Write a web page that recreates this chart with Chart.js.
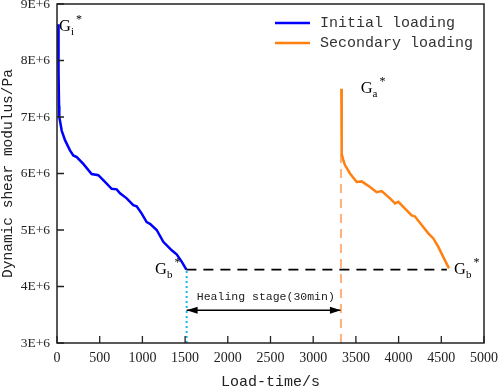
<!DOCTYPE html>
<html>
<head>
<meta charset="utf-8">
<script src="https://cdn.jsdelivr.net/npm/chart.js@4"></script>
<style>
  html, body { margin: 0; padding: 0; background: #fff; }
  #wrap { width: 498px; height: 388px; }
</style>
</head>
<body>
<div id="wrap"><canvas id="c" width="498" height="388"></canvas></div>
<script>
// --- data (time in s, modulus in Pa) ---
const initTime = [12, 18, 24, 27, 55, 94, 152, 191, 231, 308, 406, 484, 562, 640, 699, 738, 816, 893, 933, 992, 1050, 1089, 1167, 1245, 1343, 1401, 1460, 1515];
const initG = [8.64, 7.8, 7.2, 7.0, 6.76, 6.59, 6.41, 6.32, 6.29, 6.17, 5.99, 5.97, 5.85, 5.73, 5.72, 5.65, 5.56, 5.44, 5.42, 5.29, 5.14, 5.11, 5.0, 4.79, 4.64, 4.57, 4.44, 4.30].map(v => v * 1e6);

const secTime = [3330, 3332, 3335, 3350, 3372, 3431, 3509, 3568, 3665, 3743, 3802, 3899, 3958, 3997, 4075, 4153, 4192, 4270, 4348, 4407, 4465, 4524, 4590];
const secG = [7.50, 6.9, 6.35, 6.25, 6.15, 6.0, 5.85, 5.86, 5.76, 5.67, 5.69, 5.56, 5.47, 5.50, 5.38, 5.26, 5.24, 5.09, 4.94, 4.85, 4.70, 4.52, 4.32].map(v => v * 1e6);

const seriesNames = ["Initial loading", "Secondary loading"];

// reference lines
const gbLevel = 4.3e6;            // dashed black level
const gbSpan = [1515, 4565];
const healStart = 1518;           // dotted blue
const healEnd = 3325;             // dashed orange
const healTop = 6.4e6;
const arrowLevel = 3.58e6;
const healText = "Healing stage(30min)";

// axis ticks
const xTicks = [0, 500, 1000, 1500, 2000, 2500, 3000, 3500, 4000, 4500, 5000];
const yTicks = [3e6, 4e6, 5e6, 6e6, 7e6, 8e6, 9e6];

// G labels: [base, subscript, anchor time, anchor modulus]
const gLabels = [
  ["G", "i", 23, 8.53e6],
  ["G", "b", 1148, 4.22e6],
  ["G", "a", 3556, 7.42e6],
  ["G", "b", 4649, 4.22e6]
];

const zip = (xs, ys) => xs.map((x, i) => ({ x, y: ys[i] }));

const BLUE = "#0000ff";
const ORANGE = "#ff7f0f";
const MONO = "'Liberation Mono', monospace";
const SERIF = "'Liberation Serif', 'Times New Roman', serif";

const framePlugin = {
  id: "frame",
  afterDatasetsDraw(chart) {
    const { ctx, chartArea: a, scales: { x, y } } = chart;
    ctx.save();

    // arrowheads on the healing arrow
    const ay = y.getPixelForValue(arrowLevel);
    const ax1 = x.getPixelForValue(healStart);
    const ax2 = x.getPixelForValue(healEnd);
    ctx.fillStyle = "#000";
    ctx.beginPath();
    ctx.moveTo(ax1, ay); ctx.lineTo(ax1 + 11, ay - 3.5); ctx.lineTo(ax1 + 11, ay + 3.5); ctx.closePath();
    ctx.fill();
    ctx.beginPath();
    ctx.moveTo(ax2, ay); ctx.lineTo(ax2 - 11, ay - 3.5); ctx.lineTo(ax2 - 11, ay + 3.5); ctx.closePath();
    ctx.fill();

    // healing text
    ctx.font = "11.5px " + MONO;
    ctx.fillStyle = "#222";
    ctx.textAlign = "center";
    ctx.textBaseline = "middle";
    ctx.fillText(healText, (ax1 + ax2) / 2 + 2, ay - 13);

    // G labels
    ctx.textAlign = "left";
    ctx.textBaseline = "alphabetic";
    gLabels.forEach(([g, sub, t, v]) => {
      const px = x.getPixelForValue(t);
      const py = y.getPixelForValue(v);
      ctx.font = "16.5px " + SERIF;
      ctx.fillStyle = "#000";
      ctx.fillText(g, px, py);
      const gw = ctx.measureText(g).width;
      ctx.font = "11px " + SERIF;
      ctx.fillText(sub, px + gw, py + 4);
      const sw = ctx.measureText(sub).width;
      ctx.font = "12px " + SERIF;
      ctx.fillText("*", px + gw + sw + 2, py - 8);
    });

    // legend (top right, inside plot)
    ctx.font = "15px " + MONO;
    ctx.textBaseline = "middle";
    chart.data.datasets.slice(0, 2).forEach((ds, i) => {
      const ly = a.top + 19 + i * 20;
      const lx = a.right - 209;
      ctx.strokeStyle = ds.borderColor;
      ctx.lineWidth = 2.5;
      ctx.beginPath();
      ctx.moveTo(lx, ly); ctx.lineTo(lx + 35, ly);
      ctx.stroke();
      ctx.fillStyle = "#333";
      ctx.fillText(ds.label, lx + 45, ly);
    });

    // frame
    ctx.strokeStyle = "#222";
    ctx.lineWidth = 1.5;
    ctx.strokeRect(a.left, a.top, a.right - a.left, a.bottom - a.top);

    // inward ticks
    ctx.lineWidth = 1.3;
    ctx.beginPath();
    xTicks.forEach(t => {
      const px = x.getPixelForValue(t);
      ctx.moveTo(px, a.bottom); ctx.lineTo(px, a.bottom - 7);
    });
    yTicks.forEach(v => {
      const py = y.getPixelForValue(v);
      ctx.moveTo(a.left, py); ctx.lineTo(a.left + 7, py);
    });
    ctx.stroke();
    ctx.restore();
  }
};

new Chart(document.getElementById("c"), {
  type: "scatter",
  data: {
    datasets: [
      { label: seriesNames[0], data: zip(initTime, initG), showLine: true, borderColor: BLUE, borderWidth: 2.5, pointRadius: 0, tension: 0 },
      { label: seriesNames[1], data: zip(secTime, secG), showLine: true, borderColor: ORANGE, borderWidth: 2.5, pointRadius: 0, tension: 0 },
      { label: "gb", data: [{ x: gbSpan[0], y: gbLevel }, { x: gbSpan[1], y: gbLevel }], showLine: true, borderColor: "#000", borderWidth: 1.8, borderDash: [10, 7], pointRadius: 0 },
      { label: "start", data: [{ x: healStart, y: 3e6 }, { x: healStart, y: gbLevel }], showLine: true, borderColor: "#1ab6f0", borderWidth: 2, borderDash: [2, 3], pointRadius: 0 },
      { label: "end", data: [{ x: healEnd, y: 3e6 }, { x: healEnd, y: healTop }], showLine: true, borderColor: "rgba(255,150,80,0.75)", borderWidth: 2, borderDash: [9, 6], pointRadius: 0 },
      { label: "arrow", data: [{ x: healStart, y: arrowLevel }, { x: healEnd, y: arrowLevel }], showLine: true, borderColor: "#000", borderWidth: 1.5, pointRadius: 0 }
    ]
  },
  options: {
    responsive: false,
    animation: false,
    events: [],
    layout: { padding: { left: 0, top: 4, right: 14, bottom: 0 } },
    plugins: { legend: { display: false }, tooltip: { enabled: false } },
    scales: {
      x: {
        type: "linear", min: 0, max: 5000,
        afterBuildTicks: s => { s.ticks = xTicks.map(v => ({ value: v })); },
        afterFit: s => { s.height = 45; s.paddingLeft = 0; s.paddingRight = 0; },
        grid: { display: false, drawTicks: false }, border: { display: false },
        ticks: { padding: 7, color: "#222", font: { family: SERIF, size: 14 }, maxRotation: 0, callback: v => String(v) },
        title: { display: true, text: "Load-time/s", color: "#222", font: { family: MONO, size: 15 }, padding: { top: 0, bottom: -3 } }
      },
      y: {
        type: "linear", min: 3e6, max: 9e6,
        afterBuildTicks: s => { s.ticks = yTicks.map(v => ({ value: v })); },
        afterFit: s => { s.width = 57; s.paddingTop = 0; s.paddingBottom = 0; },
        grid: { display: false, drawTicks: false }, border: { display: false },
        ticks: { padding: 7, color: "#222", font: { family: SERIF, size: 13.5 }, callback: v => (v / 1e6) + "E+6" },
        title: { display: true, text: "Dynamic shear modulus/Pa", color: "#222", font: { family: MONO, size: 14.5 }, padding: { top: -1, bottom: 0 } }
      }
    }
  },
  plugins: [framePlugin]
});
</script>
</body>
</html>
